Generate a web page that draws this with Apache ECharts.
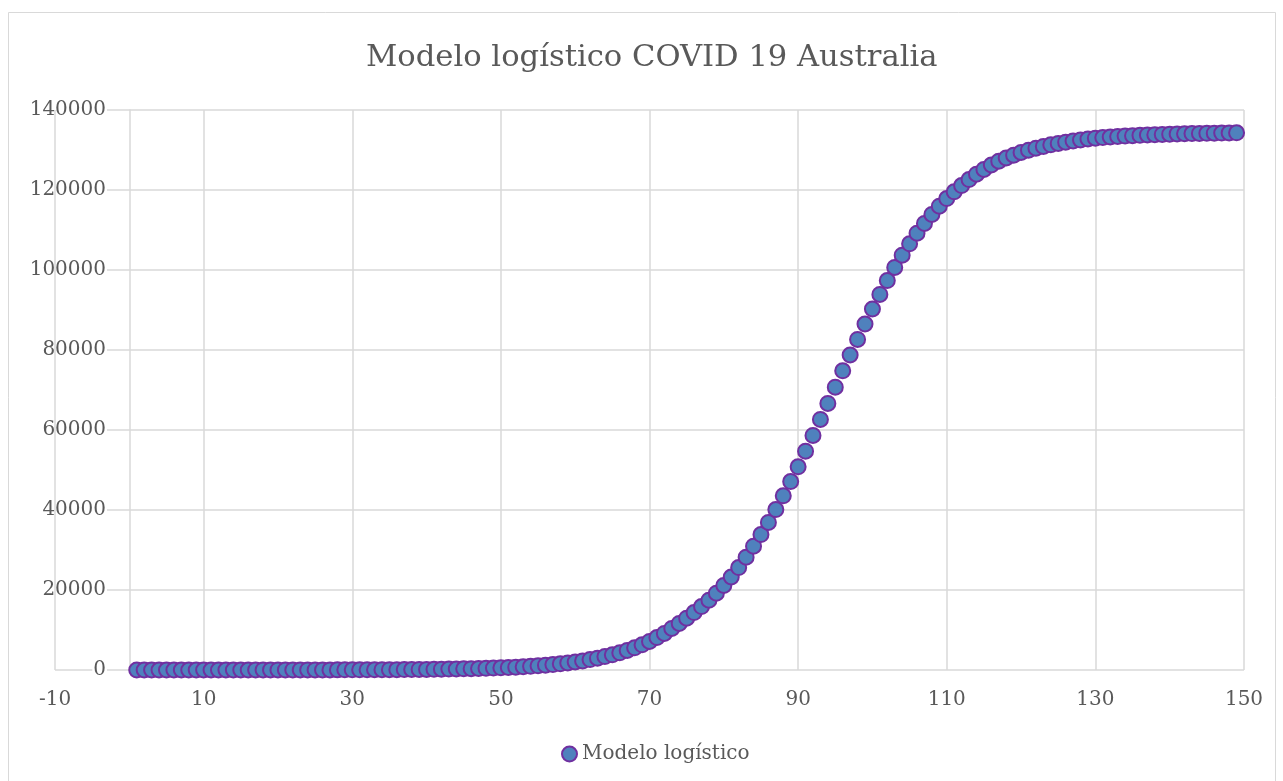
<!DOCTYPE html>
<html>
<head>
<meta charset="utf-8">
<title>Modelo logístico COVID 19 Australia</title>
<script src="https://cdn.jsdelivr.net/npm/echarts@6/dist/echarts.min.js"></script>
<style>
  html, body { margin: 0; padding: 0; background: #ffffff; }
  #chart { width: 1283px; height: 781px; }
</style>
</head>
<body>
<div id="chart"></div>
<script>
// Días del modelo (eje X) y casos acumulados estimados por el modelo logístico
const dias = [
  1, 2, 3, 4, 5, 6, 7, 8, 9, 10, 11, 12, 13, 14, 15, 16, 17, 18, 19, 20,
  21, 22, 23, 24, 25, 26, 27, 28, 29, 30, 31, 32, 33, 34, 35, 36, 37, 38, 39, 40,
  41, 42, 43, 44, 45, 46, 47, 48, 49, 50, 51, 52, 53, 54, 55, 56, 57, 58, 59, 60,
  61, 62, 63, 64, 65, 66, 67, 68, 69, 70, 71, 72, 73, 74, 75, 76, 77, 78, 79, 80,
  81, 82, 83, 84, 85, 86, 87, 88, 89, 90, 91, 92, 93, 94, 95, 96, 97, 98, 99, 100,
  101, 102, 103, 104, 105, 106, 107, 108, 109, 110, 111, 112, 113, 114, 115, 116, 117, 118, 119, 120,
  121, 122, 123, 124, 125, 126, 127, 128, 129, 130, 131, 132, 133, 134, 135, 136, 137, 138, 139, 140,
  141, 142, 143, 144, 145, 146, 147, 148, 149
];
const casosModelo = [
  1, 1, 1, 1, 2, 2, 2, 2, 3, 3, 4, 4, 5, 5, 6, 7, 8, 9, 10, 12,
  13, 15, 17, 20, 22, 25, 29, 33, 37, 43, 48, 55, 63, 71, 81, 92, 105, 119, 135, 154,
  175, 199, 226, 257, 292, 332, 378, 430, 488, 555, 630, 715, 815, 925, 1050, 1200, 1360, 1550, 1760, 2000,
  2280, 2600, 2950, 3350, 3800, 4300, 4900, 5550, 6300, 7150, 8100, 9150, 10400, 11650, 12950, 14350, 15850, 17450, 19200, 21150,
  23250, 25600, 28200, 30950, 33850, 36900, 40100, 43550, 47100, 50800, 54700, 58650, 62650, 66650, 70700, 74800, 78750, 82650, 86500, 90250,
  93900, 97350, 100650, 103700, 106550, 109200, 111650, 113900, 115950, 117850, 119550, 121100, 122600, 123950, 125150, 126250, 127200, 128000, 128700, 129400,
  129950, 130450, 130900, 131300, 131650, 131950, 132250, 132500, 132750, 132950, 133100, 133250, 133380, 133490, 133590, 133680, 133760, 133830, 133900, 133960,
  134010, 134060, 134100, 134140, 134180, 134210, 134240, 134270, 134300
];

const tituloGrafico = 'Modelo logístico COVID 19 Australia';
const nombreSerie = 'Modelo logístico';

const fuente = 'DejaVu Serif';
const colorTexto = '#595959';
const colorRejilla = '#d9d9d9';

const puntos = dias.map((d, i) => [d, casosModelo[i]]);

const chart = echarts.init(document.getElementById('chart'), null, { renderer: 'canvas' });

chart.setOption({
  backgroundColor: '#ffffff',
  animation: false,
  graphic: [{
    type: 'rect',
    z: -10,
    shape: { x: 8.5, y: 12.5, width: 1267, height: 790 },
    style: { fill: 'none', stroke: colorRejilla, lineWidth: 1 },
    silent: true
  }],
  title: {
    text: tituloGrafico,
    left: 361,
    top: 38,
    textStyle: { fontFamily: fuente, fontSize: 30.6, fontWeight: 'normal', color: colorTexto }
  },
  legend: {
    data: [nombreSerie],
    left: 556,
    bottom: 12,
    itemWidth: 15,
    itemHeight: 15,
    itemGap: 10,
    textStyle: { fontFamily: fuente, fontSize: 20, color: colorTexto }
  },
  grid: { left: 55, right: 39, top: 110, bottom: 111, containLabel: false, outerBoundsMode: 'none' },
  xAxis: {
    type: 'value',
    min: -10,
    max: 150,
    interval: 20,
    z: 3,
    // la línea horizontal en y = 0 la dibuja la rejilla del eje Y
    axisLine: { show: false },
    axisTick: { show: false },
    axisLabel: { fontFamily: fuente, fontSize: 20, color: colorTexto, margin: 20 },
    splitLine: { show: true, lineStyle: { color: colorRejilla, width: 1.5 } }
  },
  yAxis: [{
    // rejilla horizontal
    type: 'value',
    min: 0,
    max: 140000,
    interval: 20000,
    position: 'left',
    z: 0,
    axisLine: { show: false, onZero: false },
    axisTick: { show: false },
    axisLabel: { show: false },
    splitLine: { show: true, lineStyle: { color: colorRejilla, width: 1.5 } }
  }, {
    // eje vertical que cruza en x = 0, con sus etiquetas junto a él
    type: 'value',
    min: 0,
    max: 140000,
    interval: 20000,
    position: 'left',
    z: 1,
    axisLine: { show: true, onZero: true, lineStyle: { color: colorRejilla, width: 1.5 } },
    axisTick: { show: false },
    axisLabel: {
      fontFamily: fuente, fontSize: 20, color: colorTexto, margin: -52,
      backgroundColor: '#ffffff', padding: [0, 1, 0, 1],
      formatter: (v) => String(v)
    },
    splitLine: { show: false }
  }],
  series: [{
    name: nombreSerie,
    type: 'scatter',
    yAxisIndex: 0,
    data: puntos,
    symbol: 'circle',
    symbolSize: 15,
    z: 4,
    itemStyle: { color: '#4f81bd', borderColor: '#7030a0', borderWidth: 2, opacity: 1 }
  }]
});
</script>
</body>
</html>
